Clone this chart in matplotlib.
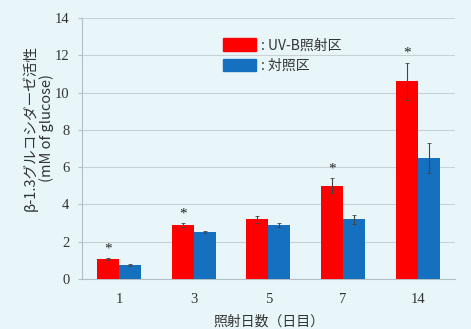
import numpy as np
import matplotlib
matplotlib.use("Agg")
import matplotlib.pyplot as plt
from matplotlib.patches import Patch

# data
days = ["1", "3", "5", "7", "14"]
uvb = [1.07, 2.9, 3.2, 5.0, 10.6]
uvb_err = [0.05, 0.1, 0.2, 0.4, 1.0]
control = [0.75, 2.52, 2.9, 3.2, 6.5]
control_err = [0.03, 0.05, 0.1, 0.25, 0.8]
significant = [True, True, False, True, True]

bg = "#e8f6fa"
jp = ["Noto Sans CJK JP", "DejaVu Sans"]
serif = ["Liberation Serif", "Noto Sans CJK JP"]

fig = plt.figure(figsize=(4.71, 3.29), dpi=100, facecolor=bg)
ax = fig.add_axes([0.174, 0.152, 0.792, 0.793], facecolor=bg)

x = np.arange(len(days))
w = 0.295
ax.bar(x - w/2, uvb, w, color="#ff0000", yerr=uvb_err,
       error_kw=dict(ecolor="#444444", elinewidth=0.8, capsize=1.5, capthick=0.6), zorder=3)
ax.bar(x + w/2, control, w, color="#1570c0", yerr=control_err,
       error_kw=dict(ecolor="#444444", elinewidth=0.8, capsize=1.5, capthick=0.6), zorder=3)

for i, s in enumerate(significant):
    if s:
        ax.text(x[i] - w/2, uvb[i] + uvb_err[i] + 0.15, "*", ha="center", va="bottom",
                fontsize=11, color="#222222", family=serif)

ax.set_xlim(-0.5, len(days) - 0.5)
ax.set_ylim(0, 14)
ax.set_yticks(range(0, 15, 2))
ax.set_xticks(x)
ax.set_xticklabels(days)
ax.yaxis.grid(True, color="#c8d2d6", linewidth=0.8, zorder=0)
ax.set_axisbelow(True)
for sp in ["top", "right"]:
    ax.spines[sp].set_visible(False)
for sp in ["left", "bottom"]:
    ax.spines[sp].set_color("#b5bfc3")
ax.tick_params(axis="y", length=3, color="#b5bfc3", labelsize=10.5, pad=6, labelcolor="#333333")
ax.tick_params(axis="x", length=0, labelsize=10.5, pad=10, labelcolor="#333333")
for lab in ax.get_xticklabels() + ax.get_yticklabels():
    lab.set_family(serif)

ax.set_xlabel("照射日数（日目）", family=jp, fontsize=10, color="#333333", labelpad=6)
ax.set_ylabel("β-1.3グルコシダーゼ活性\n(mM of glucose)", family=jp, fontsize=10.5,
              color="#333333", linespacing=1.1)
ax.yaxis.set_label_coords(-0.075, 0.58)

handles = [Patch(color="#ff0000", label=": UV-B照射区"),
           Patch(color="#1570c0", label=": 対照区")]
leg = ax.legend(handles=handles, loc="upper left", bbox_to_anchor=(0.345, 0.97),
                frameon=False, prop={"family": jp, "size": 10}, handlelength=2.4,
                handleheight=1.0, handletextpad=0.3, labelspacing=0.45)
for t in leg.get_texts():
    t.set_color("#333333")

fig.savefig("out.png", dpi=100, facecolor=bg)
